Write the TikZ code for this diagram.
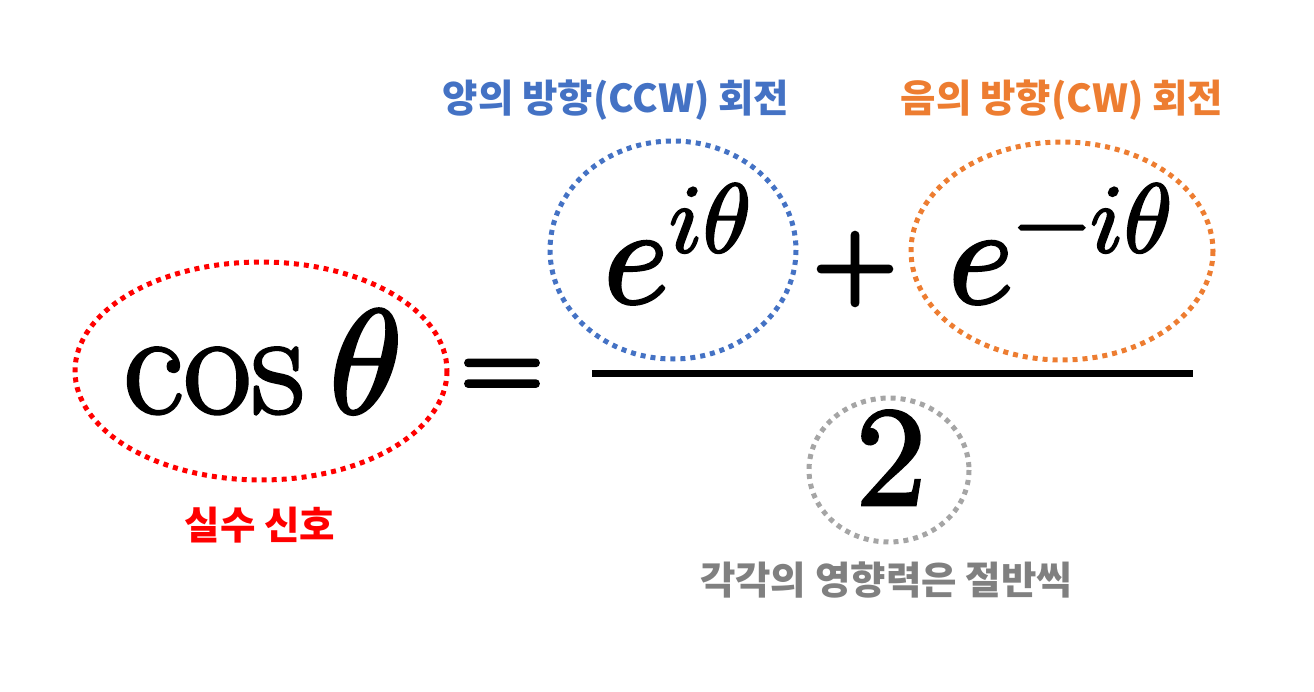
\documentclass[tikz,border=0pt]{standalone}
\usepackage{fontspec}
\usepackage{unicode-math}
\setmainfont{Latin Modern Roman}[FakeBold=2]
\setmathfont{Latin Modern Math}[FakeBold=2]
\newfontfamily\symb{Latin Modern Math}[FakeBold=4]
\newfontfamily\kr{Noto Sans CJK KR}
\definecolor{cblue}{HTML}{4472C4}
\definecolor{corange}{HTML}{ED7D31}
\definecolor{cred}{HTML}{FF0000}
\definecolor{cgrey}{HTML}{A5A5A5}
\definecolor{ctext}{HTML}{808080}
\tikzset{
  dotring/.style={draw=#1, line width=5pt, dash pattern=on 5pt off 5pt},
  lbl/.style={font=\kr\bfseries\fontsize{38.5}{40}\selectfont, inner sep=0pt, anchor=center},
  bigmath/.style={inner sep=0pt, anchor=base, font=\fontsize{#1}{#1}\selectfont},
  bigsym/.style={inner sep=0pt, anchor=base, font=\symb\fontsize{#1}{#1}\selectfont},
}
\begin{document}
\begin{tikzpicture}[x=1pt,y=-1pt]
\useasboundingbox (0,0) rectangle (1314,692);
% rings
\draw[dotring=cred] (261,371) ellipse [x radius=186, y radius=109];
\draw[dotring=cblue] (673,250) ellipse [x radius=123, y radius=109];
\draw[dotring=corange] (1062,251) ellipse [x radius=151, y radius=109];
\draw[dotring=cgrey] (889,470) ellipse [x radius=80, y radius=72];
% math
\node[bigmath=148] (ncos) at (262,413) {$\cos\theta$};
\node[bigsym=107] (neq) at (502,400) {=};
\node[bigmath=140] (nepos) at (677,303) {$e^{i\theta}$};
\node[bigsym=108] (nplus) at (855,296) {+};
\node[bigmath=140] (neneg) at (1060,303) {$e^{-i\theta}$};
\node[bigmath=142] (ntwo) at (891,505) {$2$};
\coordinate (fl) at (592,373);
\coordinate (fr) at (1193,373);
\draw[line width=7pt] (fl) -- (fr);
% labels
\node[lbl, text=cblue] (lccw) at (616,100) {양의 방향(CCW) 회전};
\node[lbl, text=corange] (lcw) at (1062,100) {음의 방향(CW) 회전};
\node[lbl, text=cred] (lreal) at (260,525) {실수 신호};
\node[lbl, text=ctext] (lhalf) at (886,580) {각각의 영향력은 절반씩};
\end{tikzpicture}
\end{document}
